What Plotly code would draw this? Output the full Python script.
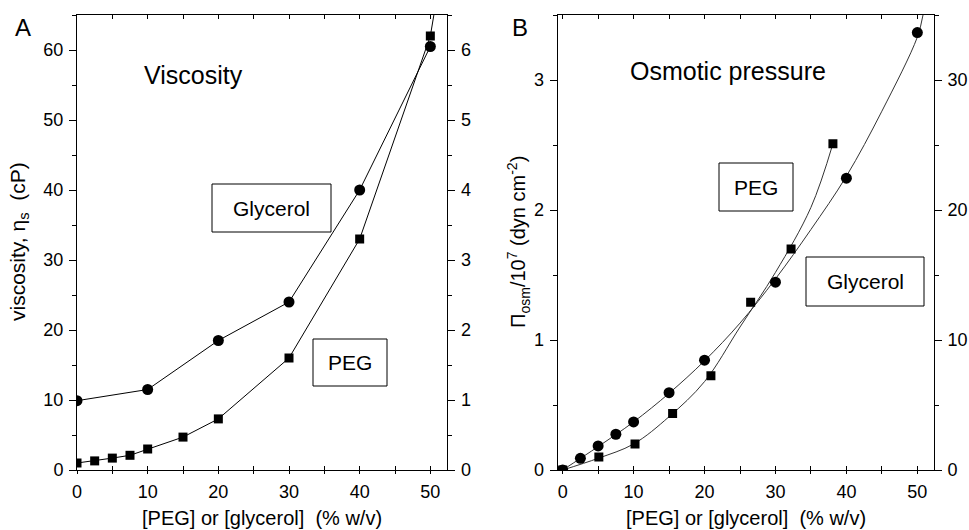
import plotly.graph_objects as go

# ---------------- data ----------------
# Panel A: viscosity (cP), left axis
visc_gly_x = [0, 10, 20, 30, 40, 50]
visc_gly_y = [9.9, 11.5, 18.5, 24.0, 40.0, 60.5]
visc_peg_x = [0, 2.5, 5, 7.5, 10, 15, 20, 30, 40, 50]
visc_peg_y = [1.0, 1.3, 1.7, 2.1, 3.0, 4.7, 7.3, 16.0, 33.0, 62.0]
# continuation of the PEG line above the last point (to the frame top)
visc_peg_ext_x = [50, 50.5]
visc_peg_ext_y = [62.0, 65.0]

# Panel B: osmotic pressure (x 10^7 dyn cm^-2), left axis
osm_gly_x = [0, 2.5, 5, 7.5, 10, 15, 20, 30, 40, 50]
osm_gly_y = [0, 0.09, 0.185, 0.275, 0.37, 0.595, 0.845, 1.445, 2.245, 3.365]
osm_peg_x = [0, 5.1, 10.2, 15.5, 20.9, 26.5, 32.2, 38.1]
osm_peg_y = [0, 0.10, 0.20, 0.435, 0.725, 1.29, 1.70, 2.51]
# fitted curves drawn through the points
osm_gly_fit_x = [0, 5, 10, 15, 20, 25, 30, 35, 40, 45, 50, 50.8]
osm_gly_fit_y = [0, 0.18, 0.37, 0.59, 0.84, 1.13, 1.47, 1.85, 2.26, 2.76, 3.33, 3.5]
osm_peg_fit_x = [0, 5, 10, 15, 20, 25, 30, 35, 38.1]
osm_peg_fit_y = [0, 0.09, 0.20, 0.41, 0.68, 1.10, 1.52, 2.02, 2.51]

x_ticks = [0, 10, 20, 30, 40, 50]
visc_ticks = [0, 10, 20, 30, 40, 50, 60]
visc_right_ticks = [0, 1, 2, 3, 4, 5, 6]
osm_ticks = [0, 1, 2, 3]
osm_right_ticks = [0, 10, 20, 30]

# ---------------- layout geometry ----------------
W, H = 969, 530
ML, MR, MT, MB = 77, 35, 15, 60
PW, PH = W - ML - MR, H - MT - MB


def px(x):
    return (x - ML) / PW


def py(y):
    return (H - MB - y) / PH


FONT = "Liberation Sans, Arial, Helvetica, sans-serif"
BLACK = "#000000"

fig = go.Figure()

# Panel A
fig.add_trace(go.Scatter(x=visc_gly_x, y=visc_gly_y, mode="lines+markers",
                         line=dict(color=BLACK, width=1),
                         marker=dict(symbol="circle", size=11, color=BLACK),
                         xaxis="x", yaxis="y", showlegend=False))
fig.add_trace(go.Scatter(x=visc_peg_x, y=visc_peg_y, mode="lines+markers",
                         line=dict(color=BLACK, width=1),
                         marker=dict(symbol="square", size=9, color=BLACK),
                         xaxis="x", yaxis="y", showlegend=False))
fig.add_trace(go.Scatter(x=visc_peg_ext_x, y=visc_peg_ext_y, mode="lines",
                         line=dict(color=BLACK, width=1),
                         xaxis="x", yaxis="y", showlegend=False))

# Panel B
fig.add_trace(go.Scatter(x=osm_gly_fit_x, y=osm_gly_fit_y, mode="lines",
                         line=dict(color="#333333", width=1, shape="spline"),
                         xaxis="x2", yaxis="y3", showlegend=False))
fig.add_trace(go.Scatter(x=osm_peg_fit_x, y=osm_peg_fit_y, mode="lines",
                         line=dict(color="#333333", width=1, shape="spline"),
                         xaxis="x2", yaxis="y3", showlegend=False))
fig.add_trace(go.Scatter(x=osm_gly_x, y=osm_gly_y, mode="markers",
                         marker=dict(symbol="circle", size=11, color=BLACK),
                         xaxis="x2", yaxis="y3", showlegend=False))
fig.add_trace(go.Scatter(x=osm_peg_x, y=osm_peg_y, mode="markers",
                         marker=dict(symbol="square", size=9, color=BLACK),
                         xaxis="x2", yaxis="y3", showlegend=False))

# empty traces so the secondary axes are drawn
for xa, ya in [("x", "y2"), ("x2", "y4"), ("x3", "y"), ("x4", "y3")]:
    fig.add_trace(go.Scatter(x=[None], y=[None], xaxis=xa, yaxis=ya,
                             mode="markers", showlegend=False, hoverinfo="skip"))

dA = [0, px(447.3)]
dB = [px(557.7), 1]

tickfont = dict(family=FONT, size=18, color=BLACK)


def xax(domain, rng, anchor, overlay=None, outside=False):
    d = dict(domain=domain, range=rng, anchor=anchor, tickvals=x_ticks,
             showline=True, linecolor=BLACK, linewidth=1, showgrid=False,
             zeroline=False, tickfont=tickfont, tickcolor=BLACK, automargin=False)
    if outside:
        d.update(overlaying=overlay, side="bottom", ticks="outside", ticklen=3,
                 showticklabels=False,
                 minor=dict(dtick=5, tick0=0, ticks="outside", ticklen=3,
                            tickcolor=BLACK))
    else:
        d.update(ticks="inside", ticklen=4, mirror="ticks", ticklabelstandoff=5,
                 minor=dict(dtick=5, tick0=0, ticks="inside", ticklen=4,
                            tickcolor=BLACK))
    return d


def yax(rng, vals, minor_dt, anchor, side="left", overlay=None):
    d = dict(range=rng, tickvals=vals, anchor=anchor, side=side,
             showline=True, linecolor=BLACK, linewidth=1, showgrid=False,
             zeroline=False, ticks="outside", ticklen=7, tickcolor=BLACK,
             tickfont=tickfont, ticklabelstandoff=2, automargin=False,
             minor=dict(dtick=minor_dt, tick0=0, ticks="outside", ticklen=4,
                        tickcolor=BLACK))
    if overlay:
        d["overlaying"] = overlay
    return d


fig.update_layout(
    width=W, height=H,
    margin=dict(l=ML, r=MR, t=MT, b=MB, autoexpand=False),
    paper_bgcolor="white", plot_bgcolor="white",
    font=dict(family=FONT, size=18, color=BLACK),
    xaxis=xax(dA, [0, 52.4], "y"),
    xaxis3=xax(dA, [0, 52.4], "y", overlay="x", outside=True),
    xaxis2=xax(dB, [-0.7, 52.35], "y3"),
    xaxis4=xax(dB, [-0.7, 52.35], "y3", overlay="x2", outside=True),
    yaxis=yax([0, 65], visc_ticks, 5, "x"),
    yaxis2=yax([0, 6.5], visc_right_ticks, 0.5, "x", side="right", overlay="y"),
    yaxis3=yax([0, 3.5], osm_ticks, 0.5, "x2"),
    yaxis4=yax([0, 35], osm_right_ticks, 5, "x2", side="right", overlay="y3"),
)

ann = []


def text(x, y, s, size, angle=0):
    ann.append(dict(x=px(x), y=py(y), xref="paper", yref="paper", text=s,
                    showarrow=False, textangle=angle, xanchor="center",
                    yanchor="middle", font=dict(family=FONT, size=size, color=BLACK)))


text(23, 27, "A", 24)
text(520, 27, "B", 24)
text(193, 75, "Viscosity", 25)
text(728, 71, "Osmotic pressure", 25)
text(262, 518, "[PEG] or [glycerol]  (% w/v)", 20)
text(746, 518, "[PEG] or [glycerol]  (% w/v)", 20)
text(19, 242, "viscosity, η<sub>s</sub>  (cP)", 21, -90)
text(518, 242, "Π<sub>osm</sub>/10<sup>7</sup> (dyn cm<sup>-2</sup>)", 20, -90)

boxes = [
    (212, 331, 184, 232, "Glycerol"),
    (313, 387, 339, 386, "PEG"),
    (719, 793, 163, 211, "PEG"),
    (806, 924, 257, 306, "Glycerol"),
]
shapes = []
for x0, x1, y0, y1, label in boxes:
    shapes.append(dict(type="rect", xref="paper", yref="paper",
                       x0=px(x0), x1=px(x1), y0=py(y1), y1=py(y0),
                       line=dict(color=BLACK, width=1), fillcolor="white",
                       layer="above"))
    text((x0 + x1) / 2, (y0 + y1) / 2, label, 21)

fig.update_layout(annotations=ann, shapes=shapes)

fig.write_html("out.html",
               config={"displayModeBar": False},
               post_script="document.body.style.margin='0px';"
                           "document.body.style.overflow='hidden';")
